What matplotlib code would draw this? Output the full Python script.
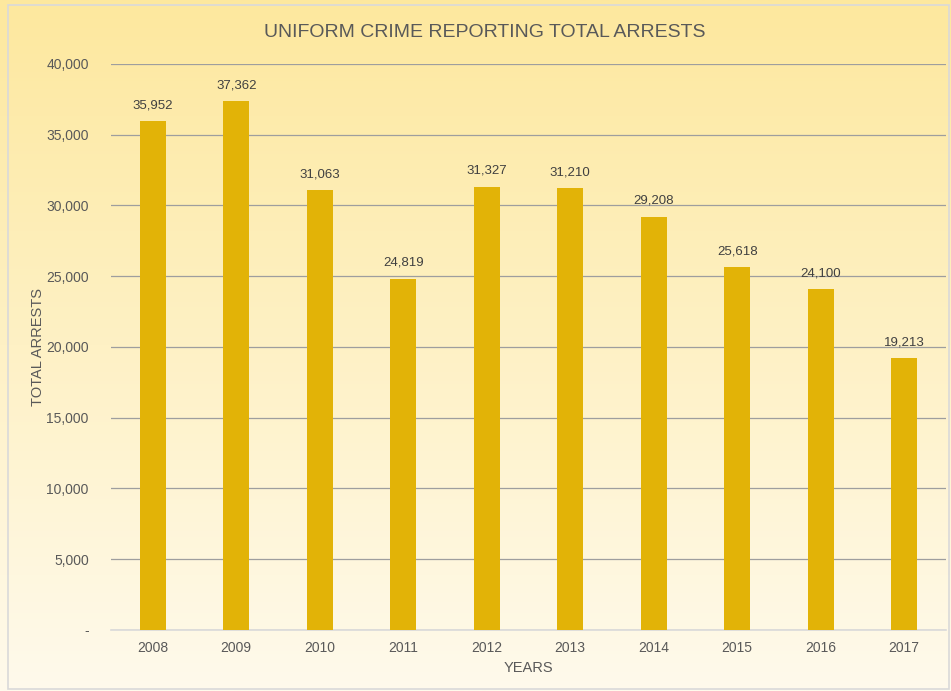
import matplotlib
matplotlib.use('Agg')
import matplotlib.pyplot as plt
from matplotlib.patches import Rectangle
import numpy as np

# data
years = ['2008', '2009', '2010', '2011', '2012', '2013', '2014', '2015', '2016', '2017']
arrests = [35952, 37362, 31063, 24819, 31327, 31210, 29208, 25618, 24100, 19213]
y_ticks = [0, 5000, 10000, 15000, 20000, 25000, 30000, 35000, 40000]

plt.rcParams['font.family'] = ['Liberation Sans', 'DejaVu Sans']
text_col = '#595959'

fig = plt.figure(figsize=(9.51, 6.91), dpi=100)
fig.patch.set_facecolor('white')

# gradient background
bg = fig.add_axes([0, 0, 1, 1], zorder=0)
top = np.array([253, 232, 158]) / 255.0
bottom = np.array([255, 250, 236]) / 255.0
t = np.linspace(0, 1, 256)[:, None]
grad = (top * (1 - t) + bottom * t)[:, None, :]
bg.imshow(grad, aspect='auto', extent=[0, 1, 0, 1], origin='upper')
bg.add_patch(Rectangle((0.008, 0.003), 0.99, 0.99, fill=False,
                       edgecolor='#D9D9D9', linewidth=1.2, transform=bg.transAxes))
bg.set_xlim(0, 1)
bg.set_ylim(0, 1)
bg.axis('off')

ax = fig.add_axes([0.1167, 0.0883, 0.878, 0.8191], zorder=1)
ax.patch.set_alpha(0)

x = np.arange(len(years))
bars = ax.bar(x, arrests, width=0.31, color='#E2B307', zorder=3)
for xi, v in zip(x, arrests):
    ax.text(xi, v + 700, f'{v:,}', ha='center', va='bottom',
            fontsize=9.5, color='#404040', zorder=4)

ax.set_xlim(-0.5, len(years) - 0.5)
ax.set_ylim(0, 40000)
ax.set_xticks(x)
ax.set_xticklabels(years, fontsize=10, color=text_col)
ax.set_yticks(y_ticks)
ax.set_yticklabels(['-'] + [f'{v:,}' for v in y_ticks[1:]], fontsize=10, color=text_col)
ax.tick_params(length=0, pad=8)
ax.tick_params(axis='y', pad=16)

ax.grid(axis='y', color='#9E9E9E', linewidth=0.9, zorder=1)
for s in ['top', 'right', 'left']:
    ax.spines[s].set_visible(False)
ax.spines['bottom'].set_color('#D9D9D9')
ax.spines['bottom'].set_linewidth(1.2)

ax.set_xlabel('YEARS', fontsize=10.5, color=text_col, labelpad=4)
ax.set_ylabel('TOTAL ARRESTS', fontsize=10.5, color=text_col)
ax.yaxis.set_label_coords(-0.079, 0.5)

fig.text(0.51, 0.953, 'UNIFORM CRIME REPORTING TOTAL ARRESTS', ha='center', va='center',
         fontsize=14, color=text_col)

fig.savefig('out.png', dpi=100)
